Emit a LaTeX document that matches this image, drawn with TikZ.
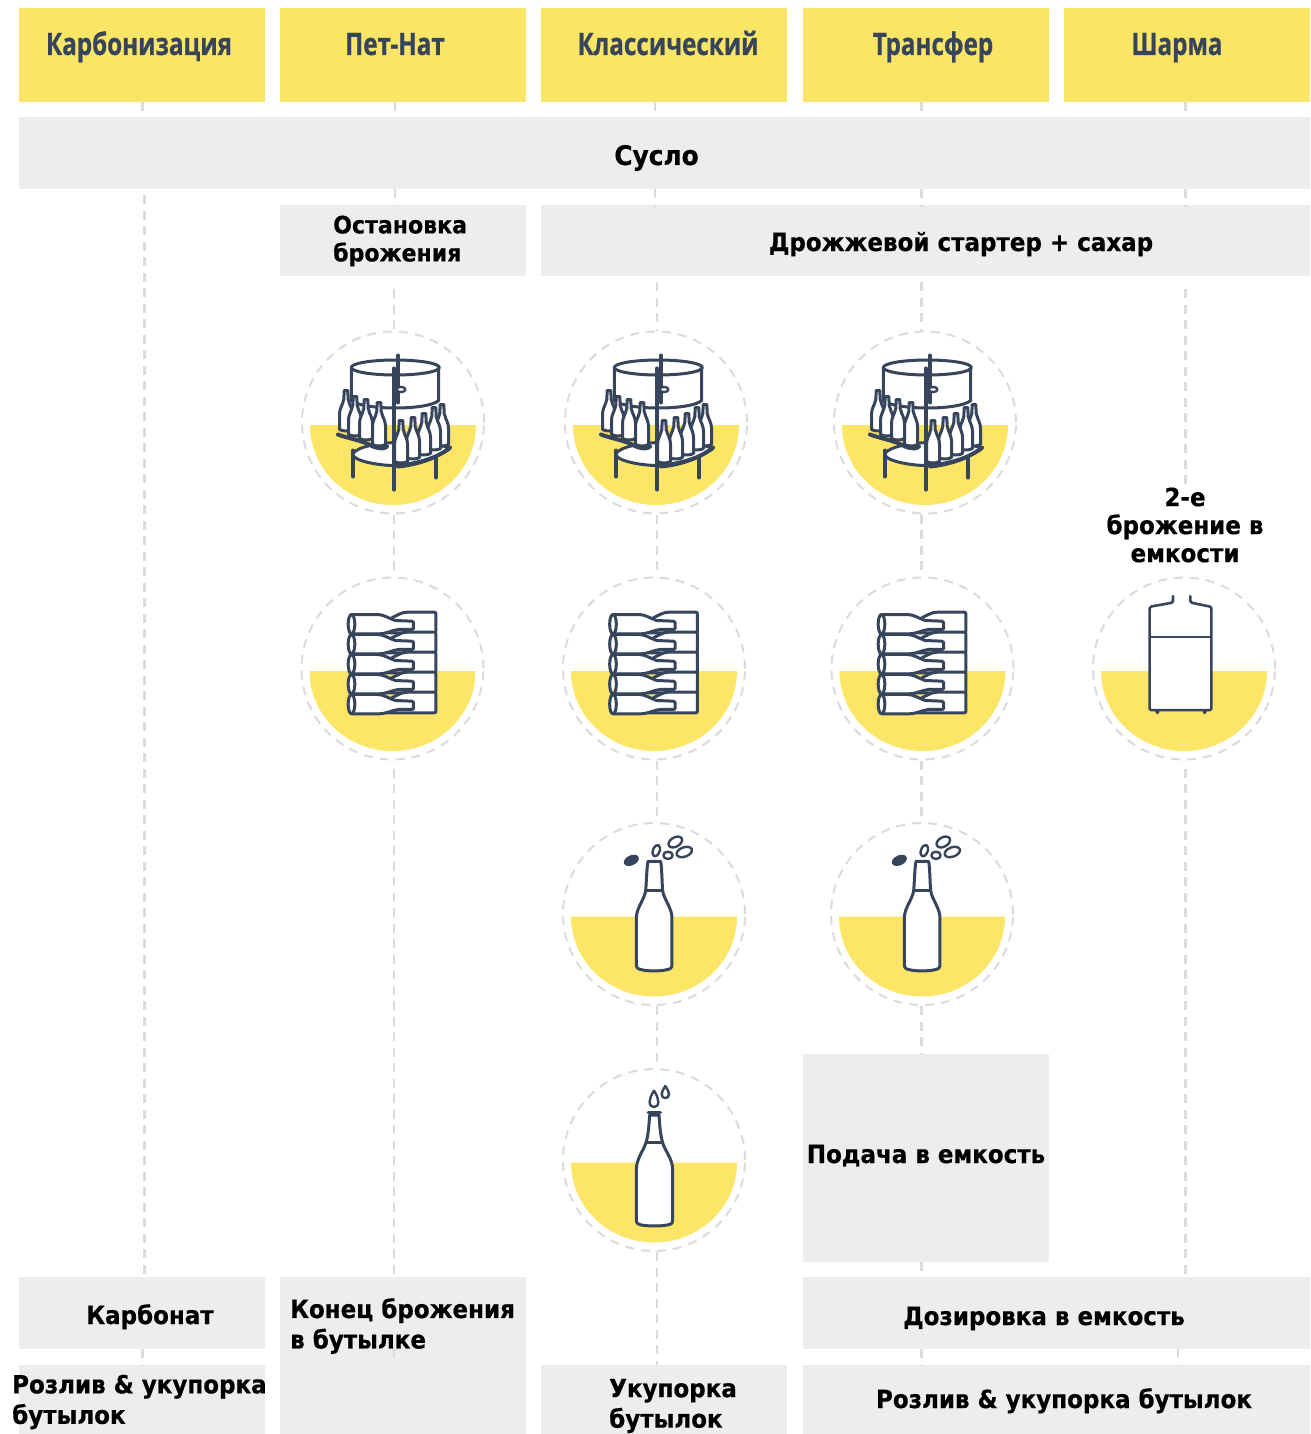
\documentclass[tikz,border=0pt]{standalone}
\usepackage{fontspec}
\setmainfont{DejaVu Sans}[BoldFont={DejaVu Sans Bold},BoldFeatures={FakeStretch=0.92,FakeBold=0.5}]
\newfontfamily\hdrfont[FakeStretch=0.78,FakeBold=0.6]{Open Sans Bold}
\definecolor{hdr}{HTML}{FBE566}
\definecolor{halfc}{HTML}{FCE567}
\definecolor{boxg}{HTML}{ECEEED}
\definecolor{ink}{HTML}{36455C}
\definecolor{dashc}{HTML}{DADBDF}
\tikzset{
 hbox/.style={fill=hdr,draw=none,inner sep=0,anchor=north west},
 gbox/.style={fill=boxg,draw=none,inner sep=0,anchor=north west},
 htext/.style={font=\hdrfont\fontsize{31}{32}\selectfont,text=ink,inner sep=0,anchor=base},
 btext/.style={font=\bfseries\fontsize{25}{28}\selectfont,text=black,inner sep=0,align=left},
 btextw/.style={font=\bfseries\fontsize{25}{30.5}\selectfont,text=black,inner sep=0,align=left},
 flow/.style={draw=dashc,line width=2.2pt,dash pattern=on 9pt off 6.5pt},
 ring/.style={draw=dashc,line width=2pt,dash pattern=on 9pt off 7pt},
 icon/.style={draw=ink,line width=3pt,line join=round,line cap=round,fill=white},
 iconthin/.style={draw=ink,line width=2.4pt,line join=round,line cap=round,fill=white},
}
% disc: name, cx, cy
\newcommand{\discbase}[3]{%
 \fill[halfc] (#2-83,#3+2.5) arc[start angle=180,end angle=0,x radius=83,y radius=80] -- cycle;
 \node[circle,minimum size=182pt,inner sep=0,ring] (#1) at (#2,#3) {};
}
% small bottle: centre x, top y, bottom y
\newcommand{\sbot}[3]{%
 \draw[icon] (#1-1.8,#2) -- (#1+1.8,#2) -- (#1+2.2,#2+9) .. controls (#1+4,#2+16) and (#1+6.5,#2+18) .. (#1+6.5,#2+24) -- (#1+6.5,#3-2)
 .. controls (#1+3,#3) and (#1-3,#3) .. (#1-6.5,#3-2) -- (#1-6.5,#2+24) .. controls (#1-6.5,#2+18) and (#1-4,#2+16) .. (#1-2.2,#2+9) -- cycle;
}
\newcommand{\fermenter}[2]{%
 \begin{scope}[shift={(#1,#2)}]
 \draw[icon,fill=none,line width=4pt] (-40,28) -- (-40,54);
 \draw[icon,fill=none,line width=4pt] (43,31) -- (43,55);
 % lower plate
 \draw[icon,line width=3pt] (-40,31) .. controls (-42,38) and (-15,43) .. (1,43) .. controls (20,42) and (45,35) .. (57,26) .. controls (40,17) and (-30,17) .. (-40,31) -- cycle;
 % tank
 \draw[icon,line width=3pt] (-41.7,-55) -- (-41.7,-22) .. controls (-30,-12) and (35,-12) .. (45.7,-22) -- (45.7,-55);
 \draw[icon,line width=3pt] (2.3,-55) ellipse[x radius=44,y radius=7.5];
 \draw[icon,fill=none,line width=4pt] (5,-67) -- (5,-20);
 \draw[iconthin] (8,-33) ellipse[x radius=4.5,y radius=2.6];
 % left rack
 \sbot{-47}{-32}{9}
 \sbot{-38}{-26}{14}
 \sbot{-27}{-23}{18}
 \sbot{-14}{-20}{24}
 \draw[icon,fill=none,line width=4pt] (-55,12) .. controls (-45,16) and (-30,18) .. (-20,24) .. controls (-12,27) and (-8,26) .. (-6,24);
 % right rack
 \sbot{49}{-18}{24}
 \sbot{41}{-15}{28}
 \sbot{31}{-9}{33}
 \sbot{20}{-5}{37}
 \sbot{8}{-2}{41}
 \draw[icon,fill=none,line width=4pt] (5,44) .. controls (25,42) and (45,35) .. (57,25);
 \draw[icon,fill=none,line width=4.2pt] (1,-54) -- (1,67);
 \end{scope}
}
% lying bottles, zoom coords scaled 1/3 around (307,297)
\newcommand{\rackbot}[2]{%
 \begin{scope}[shift={(#1,#2)},x=0.3333pt,y=-0.3333pt,xshift=-102.33pt,yshift=99pt]
 \foreach \d in {0,60,120,180,240}{
  \begin{scope}[yshift=-\d*0.3333pt]
  \draw[icon] (437,134) .. controls (437,129) .. (432,128) -- (352,128) .. controls (335,128) and (320,137) .. (300,148) -- (290,190) -- (340,190) -- (432,190) .. controls (437,189) .. (437,184) -- cycle;
  \end{scope}}
 \foreach \d in {0,60,120,180,240}{
  \begin{scope}[yshift=-\d*0.3333pt]
  \fill[white] (190,135) -- (262,135) .. controls (280,135) and (295,146) .. (315,153) -- (370,155) -- (370,180) -- (325,180) .. controls (305,182) and (290,193) .. (265,193) -- (190,193) -- cycle;
  \draw[ink,line width=3pt,line join=round,line cap=round] (185,135) -- (262,135) .. controls (280,135) and (295,146) .. (315,153) -- (365,155) -- (370,158) -- (370,178) -- (365,180) -- (325,180) .. controls (305,182) and (290,193) .. (265,193) -- (185,193);
  \draw[icon] (184,164) ellipse[x radius=10,y radius=29];
  \end{scope}}
 \end{scope}
}
% popping bottle, zoom coords about (296,298)
\newcommand{\popbot}[2]{%
 \begin{scope}[shift={(#1,#2)},x=0.3333pt,y=-0.3333pt,xshift=-98.67pt,yshift=99.33pt]
 \draw[icon] (278,140) -- (316,140) .. controls (320,160) and (320,210) .. (322,228) .. controls (326,255) and (350,280) .. (350,310) -- (350,450) .. controls (350,460) and (345,463) .. (335,465) .. controls (315,470) and (277,470) .. (258,465) .. controls (248,463) and (243,460) .. (243,450) -- (243,310) .. controls (243,280) and (267,255) .. (271,228) .. controls (273,210) and (274,160) .. (278,140) -- cycle;
 \draw[icon,fill=none] (271,228) -- (322,228);
 \fill[ink,rotate around={25:(228,137)}] (228,137) ellipse[x radius=24,y radius=15];
 \draw[iconthin,rotate around={-20:(303,108)}] (303,108) ellipse[x radius=10,y radius=18];
 \draw[iconthin] (338,122) ellipse[x radius=14,y radius=11];
 \draw[iconthin,rotate around={30:(360,82)}] (360,82) ellipse[x radius=22,y radius=14];
 \draw[iconthin,rotate around={20:(387,112)}] (387,112) ellipse[x radius=24,y radius=14];
 \end{scope}
}
% bottle with drops, zoom coords about (296,300)
\newcommand{\dropbot}[2]{%
 \begin{scope}[shift={(#1,#2)},x=0.3333pt,y=-0.3333pt,xshift=-98.67pt,yshift=100pt]
 \draw[icon] (283,165) .. controls (281,195) and (279,225) .. (272,248) .. controls (265,272) and (243,295) .. (243,330) -- (243,480) .. controls (243,490) and (248,493) .. (258,495) .. controls (280,499) and (315,499) .. (335,495) .. controls (348,493) and (352,490) .. (352,480) -- (352,330) .. controls (352,295) and (328,272) .. (322,248) .. controls (315,225) and (313,195) .. (311,165) -- cycle;
 \draw[icon,line width=3.6pt] (279,157) -- (315,157);
 \draw[icon,fill=none] (272,248) -- (322,248);
 \draw[iconthin] (296,92) .. controls (287,107) and (283,115) .. (283,126) .. controls (283,146) and (309,146) .. (309,126) .. controls (309,115) and (305,107) .. (296,92) -- cycle;
 \draw[iconthin] (330,78) .. controls (323,90) and (319,95) .. (319,103) .. controls (319,118) and (341,118) .. (341,103) .. controls (341,95) and (337,90) .. (330,78) -- cycle;
 \end{scope}
}
% tank, zoom coords about (296,297)
\newcommand{\tankicon}[2]{%
 \begin{scope}[shift={(#1,#2)},x=0.3333pt,y=-0.3333pt,xshift=-98.67pt,yshift=99pt]
 \fill[white] (193,113) -- (263,98) -- (315,98) -- (378,113) -- (378,422) -- (193,422) -- cycle;
 \draw[icon,fill=none,line width=2.6pt] (263,80) -- (263,95) -- (258,100) -- (198,111) -- (193,116) -- (193,418) -- (197,422) -- (374,422) -- (378,418) -- (378,116) -- (373,111) -- (320,100) -- (315,95) -- (315,80);
 \draw[icon,fill=none,line width=2.6pt] (197,202) -- (374,202);
 \draw[icon,fill=none,line width=2pt] (212,424) -- (216,431) -- (220,426);
 \draw[icon,fill=none,line width=2pt] (354,426) -- (358,431) -- (362,424);
 \end{scope}
}
\begin{document}
\begin{tikzpicture}[x=1pt,y=-1pt]
\useasboundingbox (0,0) rectangle (1310,1434);
% headers
\node[hbox,minimum width=246pt,minimum height=94pt] (h1) at (19,8) {};
\node[hbox,minimum width=246pt,minimum height=94pt] (h2) at (280,8) {};
\node[hbox,minimum width=246pt,minimum height=94pt] (h3) at (541,8) {};
\node[hbox,minimum width=246pt,minimum height=94pt] (h4) at (803,8) {};
\node[hbox,minimum width=246pt,minimum height=94pt] (h5) at (1064,8) {};
% grey boxes
\node[gbox,minimum width=1291pt,minimum height=72pt] (sus) at (19,117) {};
\node[gbox,minimum width=246pt,minimum height=71pt] (stop) at (280,205) {};
\node[gbox,minimum width=769pt,minimum height=71pt] (yeast) at (541,205) {};
\node[gbox,minimum width=246pt,minimum height=208pt] (feed) at (803,1054) {};
\node[gbox,minimum width=246pt,minimum height=72pt] (carb) at (19,1277) {};
\node[gbox,minimum width=246pt,minimum height=157pt] (endf) at (280,1277) {};
\node[gbox,minimum width=507pt,minimum height=72pt] (dose) at (803,1277) {};
\node[gbox,minimum width=246pt,minimum height=69pt] (fill1) at (19,1365) {};
\node[gbox,minimum width=246pt,minimum height=69pt] (cap) at (541,1365) {};
\node[gbox,minimum width=507pt,minimum height=69pt] (fill2) at (803,1365) {};
% discs
\discbase{a1}{393}{422.5}
\discbase{a2}{656}{422.5}
\discbase{a3}{925}{422.5}
\discbase{b1}{392.5}{668.5}
\discbase{b2}{654}{668.5}
\discbase{b3}{922.5}{668.5}
\discbase{b4}{1184}{668.5}
\discbase{c2}{654}{914}
\discbase{c3}{922}{914}
\discbase{d2}{654}{1160}
\fermenter{393}{422.5}
\fermenter{656}{422.5}
\fermenter{925}{422.5}
\rackbot{392.5}{668.5}
\rackbot{654}{668.5}
\rackbot{922.5}{668.5}
\tankicon{1184}{668.5}
\popbot{654}{914}
\popbot{922}{914}
\dropbot{654}{1160}
% column guides
\coordinate (x1) at (142.5,0);
\coordinate (x1b) at (144.5,0);
\coordinate (x2) at (395,0);
\coordinate (x2b) at (394,0);
\coordinate (x3) at (655,0);
\coordinate (x3b) at (657,0);
\coordinate (x4) at (921.5,0);
\coordinate (x5) at (1185.5,0);
\coordinate (x5b) at (1178,0);
% connectors
\draw[flow] (h1.south -| x1) -- (sus.north -| x1);
\draw[flow] (h2.south -| x2) -- (sus.north -| x2);
\draw[flow] (h3.south -| x3) -- (sus.north -| x3);
\draw[flow] (h4.south -| x4) -- (sus.north -| x4);
\draw[flow] (h5.south -| x5) -- (sus.north -| x5);
\draw[flow] ([yshift=-6pt]sus.south -| x1b) -- (carb.north -| x1b);
\draw[flow] (carb.south -| x1) -- (fill1.north -| x1);
\draw[flow] (sus.south -| x2) -- (stop.north -| x2);
\draw[flow] (sus.south -| x3) -- ([yshift=-2pt]yeast.north -| x3);
\draw[flow] (sus.south -| x4) -- ([yshift=-2pt]yeast.north -| x4);
\draw[flow] (sus.south -| x5) -- ([yshift=-2pt]yeast.north -| x5);
\draw[flow] ([yshift=-13pt]stop.south -| x2b) -- (a1.north -| x2b);
\draw[flow] (a1.south -| x2b) -- (b1.north -| x2b);
\draw[flow] ([yshift=-8pt]b1.south -| x2b) -- (endf.north -| x2b);
\draw[flow] ([yshift=-6pt]yeast.south -| x3b) -- (a2.north -| x3b);
\draw[flow] (a2.south -| x3b) -- (b2.north -| x3b);
\draw[flow] (b2.south -| x3b) -- (c2.north -| x3b);
\draw[flow] (c2.south -| x3b) -- (d2.north -| x3b);
\draw[flow] (d2.south -| x3b) -- (cap.north -| x3b);
\draw[flow] ([yshift=-6pt]yeast.south -| x4) -- (a3.north -| x4);
\draw[flow] (a3.south -| x4) -- (b3.north -| x4);
\draw[flow] (b3.south -| x4) -- (c3.north -| x4);
\draw[flow] (c3.south -| x4) -- (feed.north -| x4);
\draw[flow] (feed.south -| x4) -- (dose.north -| x4);
\draw[flow] (dose.south -| x4) -- (fill2.north -| x4);
\draw[flow] ([yshift=-13pt]yeast.south -| x5) -- ([yshift=-209pt]yeast.south -| x5);
\draw[flow] ([yshift=-8pt]b4.south -| x5) -- (dose.north -| x5);
\draw[flow] (dose.south -| x5b) -- (fill2.north -| x5b);
\draw[flow] (carb.south -| x2b) -- (fill1.north -| x2b);
% texts
\node[htext] (th1) at (139,55) {Карбонизация};
\node[htext] (th2) at (395,55) {Пет-Нат};
\node[htext] (th3) at (668,55) {Классический};
\node[htext] (th4) at (933,55) {Трансфер};
\node[htext] (th5) at (1177,55) {Шарма};
\node[btext,anchor=base,font=\bfseries\fontsize{27}{28}\selectfont] (t1) at (656.5,165) {Сусло};
\node[btext,anchor=west,font=\bfseries\fontsize{24}{28}\selectfont] (t2) at (333,241) {Остановка\\брожения};
\node[btext,anchor=base] (t3) at (961,251) {Дрожжевой стартер + сахар};
\node[btext,align=center] (t4) at (1185,525) {2-е\\брожение в\\емкости};
\node[btext,anchor=base] (t5) at (926,1163) {Подача в емкость};
\node[btext,anchor=base] (t6) at (150,1324) {Карбонат};
\node[btextw,anchor=west] (t7) at (290,1326) {Конец брожения\\в бутылке};
\node[btext,anchor=base] (t8) at (1044,1325) {Дозировка в емкость};
\node[btextw,anchor=west] (t9) at (12,1402) {Розлив \& укупорка\\бутылок};
\node[btextw,anchor=west] (t10) at (609,1406) {Укупорка\\бутылок};
\node[btext,anchor=base] (t11) at (1064,1408) {Розлив \& укупорка бутылок};
\end{tikzpicture}
\end{document}
